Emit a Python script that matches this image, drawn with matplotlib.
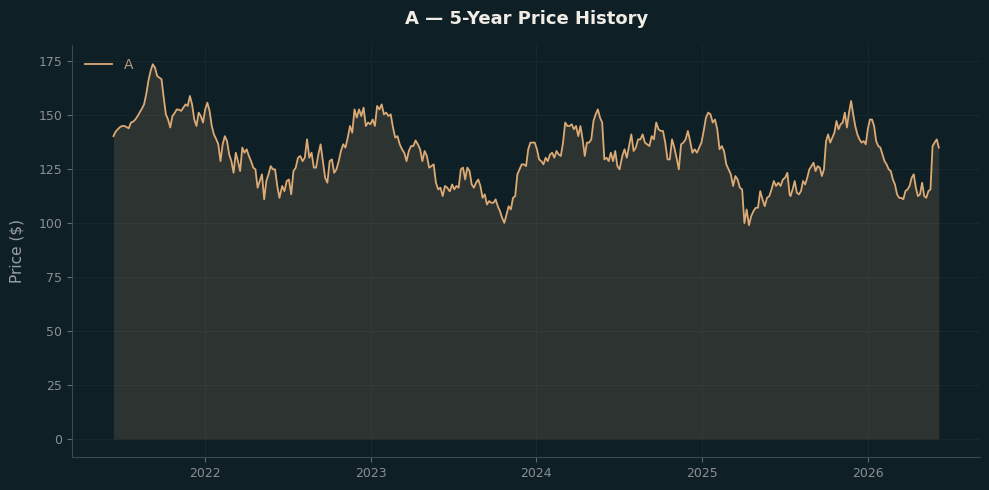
import numpy as np
import pandas as pd
import matplotlib
matplotlib.use("Agg")
import matplotlib.pyplot as plt
import matplotlib.dates as mdates

# Preços, em cinco trechos (cada trecho com suas datas de início e fim)
precos_1 = [140.3, 142.4, 143.5, 144.5, 145, 145, 144.5, 143.9, 146.6, 147, 148, 149.5, 151.2,
            153, 155, 159.7, 165.9, 170.5, 173.6, 172.1, 168.2, 167.4, 166.7, 158.2, 150.4,
            148, 144.3, 149.6, 151, 152.7, 152.5, 152, 153.5, 155, 154.3, 158.9, 155, 148, 145,
            151.2, 149.6, 146.6, 152.7, 155.8, 152, 145, 141.1, 139, 136.5, 128.7, 136.5,
            140.3, 138, 131.8, 128.7, 123.3, 132.6, 128.7, 124.1, 135, 132.6, 134.2, 131.1,
            128.7, 125.7, 124.9, 116.4, 119.5, 122.6, 111, 119.5, 122.6, 126.4, 124.9, 124.9,
            117.2, 111.7]
precos_2 = [117.2, 114.8, 119.5, 120.2, 113.3, 124.1, 125.7, 130.3, 131.1, 128.7, 130.3, 138.8,
            130.3, 132.6, 125.7, 125.7, 131.8, 136.5, 128.7, 121, 118.7, 128.7, 129.5, 123.3,
            124.9, 128.7, 133.4, 136.5, 135, 139.6, 145, 141.9, 152.7, 148.9, 152.7, 149.6,
            153.5, 145, 146.6, 145.8, 148, 145, 154.3, 152.7, 155, 150.4, 151.2, 149.6, 150.4,
            144.3, 139.6, 140.3, 136.5, 134.2, 132.6, 128.7, 133.4, 135.7, 135.7, 138.3, 136.5,
            134.2, 128.7, 133.4, 131.1, 125.7, 126.4, 127.2, 118.7, 115.6, 116.4, 112.5, 117.2,
            116.4, 114.8]
precos_3 = [114.8, 117.9, 115.6, 117.2, 116.4, 124.9, 125.7, 120.2, 125.7, 124.1, 117.9, 116.4,
            118.7, 120.2, 117.2, 111.7, 113.3, 108.6, 110.2, 109.4, 109.4, 111, 107.8, 105.5,
            102.4, 100.1, 104, 107.8, 106.3, 111.7, 112.5, 122.6, 124.9, 127.2, 127.2, 126.4,
            134.2, 137.3, 137.3, 137.3, 134.2, 129.5, 128.7, 127.2, 130.3, 128.7, 131.8, 132.6,
            130.3, 133.4, 131.8, 131.1, 137.3, 146.6, 145, 145, 145.8, 143.5, 145, 140.3, 145,
            138.8, 131.1, 137.3, 137.3, 138.8, 147.3, 150.4, 152.7, 148.9, 146.6, 129.5, 130.3,
            128.7, 132.6, 128.7, 133.4, 126.4, 124.9]
precos_4 = [131.1, 134.2, 130.3, 135.7, 141.1, 133.4, 135, 138.8, 138.8, 141.1, 137.3, 136.5,
            135.7, 140.3, 138.8, 146.6, 143.5, 142.7, 142.7, 137.3, 129.5, 129.5, 138.8, 135,
            130.3, 124.9, 136.5, 137.3, 138.8, 142.7, 138, 132.6, 134.2, 132.6, 135, 137.3,
            142.7, 148.9, 151.2, 150.4, 146.6, 148, 143.5, 134.2, 135.7, 133.4, 127.2, 124.9,
            122.6, 117.2, 121.8, 120.2, 116.4, 115.6, 100, 106.3, 99, 103.2, 105.5, 107.1,
            107.1, 114.8, 111, 107.8, 111.7, 112.5, 115.6, 119.5, 117.2, 118.7, 117.2, 120.2,
            121, 123.3, 113.3]
precos_5 = [112.5, 115.6, 119.5, 114.1, 113.3, 114.8, 119.5, 117.9, 121, 124.9, 126.4, 128,
            124.1, 126.4, 125.7, 121.8, 124.9, 138, 141.1, 137.3, 139.6, 141.9, 147.3, 143.5,
            145.8, 146.6, 151.2, 144.3, 151.2, 156.6, 150.4, 145, 141.1, 138.8, 137.3, 138,
            136.5, 143.5, 148, 148, 145, 138, 135.7, 135, 131.8, 128.7, 127.2, 124.9, 124.1,
            120.2, 117.9, 113.3, 111.7, 111.7, 111, 114.8, 115.6, 117.2, 121, 122.6, 116.4,
            112.5, 113.3, 118.7, 112.5, 111.7, 114.8, 115.6, 135.7, 137.3, 138.8, 135]

inicios = ["2021-06-13", "2022-06-20", "2023-06-25", "2024-07-09", "2025-07-15"]
fins = ["2022-06-14", "2023-06-24", "2024-07-03", "2025-07-13", "2026-06-07"]

titulo = "A — 5-Year Price History"
nome_serie = "A"

# Montagem da série completa
trechos = [precos_1, precos_2, precos_3, precos_4, precos_5]
datas = []
precos = []
for ini, fim, p in zip(inicios, fins, trechos):
    datas.extend(pd.date_range(ini, fim, periods=len(p)))
    precos.extend(p)
datas = pd.DatetimeIndex(datas)
precos = np.array(precos)

# Cores
fundo = "#0f1f26"
cor_linha = "#dcaa74"
cor_texto = "#8a8f91"

fig = plt.figure(figsize=(9.89, 4.9), dpi=100, facecolor=fundo)
ax = fig.add_axes([0.073, 0.067, 0.918, 0.841])
ax.set_facecolor(fundo)

ax.fill_between(datas, precos, 0, color=cor_linha, alpha=0.15, linewidth=0)
ax.plot(datas, precos, color=cor_linha, linewidth=1.3, label=nome_serie)

ax.set_ylim(-8.5, 182.5)
ax.set_yticks(np.arange(0, 176, 25))
ax.xaxis.set_major_locator(mdates.YearLocator())
ax.xaxis.set_major_formatter(mdates.DateFormatter("%Y"))

ax.grid(True, color="#16272e", linewidth=0.8)
ax.set_axisbelow(True)
for lado in ["top", "right"]:
    ax.spines[lado].set_visible(False)
for lado in ["left", "bottom"]:
    ax.spines[lado].set_color("#3c4a50")
ax.tick_params(colors="#5f6a6e", labelcolor=cor_texto, labelsize=9)

ax.set_ylabel("Price ($)", color="#9aa0a3", fontsize=11, labelpad=10)
ax.set_title(titulo, color="#f0ede6", fontsize=13, fontweight="bold", pad=15)

leg = ax.legend(loc="upper left", frameon=False, fontsize=10)
for t in leg.get_texts():
    t.set_color("#b39a7f")

fig.savefig("out.png", dpi=100, facecolor=fundo)
